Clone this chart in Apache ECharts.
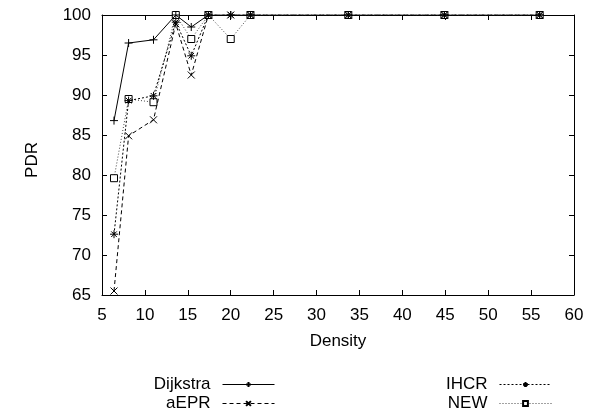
<!DOCTYPE html>
<html>
<head>
<meta charset="utf-8">
<script src="https://cdn.jsdelivr.net/npm/echarts@6/dist/echarts.min.js"></script>
<style>
  html, body { margin: 0; padding: 0; background: #fff; }
  #chart { width: 589px; height: 417px; }
</style>
</head>
<body>
<div id="chart"></div>
<script>
// densities (x) and PDR values
const density = [6.4, 8.1, 11.0, 13.6, 15.4, 17.4, 20.0, 22.3, 33.7, 44.9, 56.0];
const dijkstra = [86.8, 96.5, 96.9, 100, 98.5, 100, 100, 100, 100, 100, 100];
const aepr = [65.5, 84.9, 86.9, 98.9, 92.5, 100, 100, 100, 100, 100, 100];
const ihcr = [72.6, 89.3, 89.9, 99.1, 94.9, 100, 100, 100, 100, 100, 100];
const newAlg = [79.6, 89.5, 89.1, 100, 97.0, 100, 97.0, 100, 100, 100, 100];

const font = 'Liberation Sans, Arial, sans-serif';
const fs = 17;

const pairs = ys => density.map((x, i) => [x, ys[i]]);

const chart = echarts.init(document.getElementById('chart'));

const baseAxis = {
  axisLine: { show: true, lineStyle: { color: '#000', width: 1 } },
  axisTick: { show: true, inside: true, length: 5, lineStyle: { color: '#000' } },
  splitLine: { show: false },
};

const legendItem = (name, right, top) => ({
  data: [name],
  orient: 'vertical',
  right: right,
  top: top,
  padding: 0,
  align: 'right',
  itemWidth: 52,
  itemHeight: 6,
  selectedMode: false,
  lineStyle: { width: 1 },
  textStyle: { fontFamily: font, fontSize: fs, color: '#000', padding: [0, 7, 0, 0] },
});

const option = {
  animation: false,
  backgroundColor: '#fff',
  grid: { left: 102, right: 15, top: 15, bottom: 122, show: false },
  legend: [
    legendItem('Dijkstra', 314, 376),
    legendItem('aEPR', 314, 395),
    legendItem('IHCR', 37, 376),
    legendItem('NEW', 37, 395),
  ],
  xAxis: [
    Object.assign({}, baseAxis, {
      type: 'value', min: 5, max: 60, interval: 5, position: 'bottom',
      name: 'Density', nameLocation: 'middle', nameGap: 38,
      nameTextStyle: { fontFamily: font, fontSize: fs, color: '#000' },
      axisLabel: { fontFamily: font, fontSize: fs, color: '#000', margin: 12 },
    }),
    Object.assign({}, baseAxis, {
      type: 'value', min: 5, max: 60, interval: 5, position: 'top',
      axisLabel: { show: false },
    }),
  ],
  yAxis: [
    Object.assign({}, baseAxis, {
      type: 'value', min: 65, max: 100, interval: 5, position: 'left',
      name: 'PDR', nameLocation: 'middle', nameGap: 61,
      nameTextStyle: { fontFamily: font, fontSize: fs, color: '#000', padding: [0, 10, 0, 0] },
      axisLabel: { fontFamily: font, fontSize: fs, color: '#000', margin: 11 },
    }),
    Object.assign({}, baseAxis, {
      type: 'value', min: 65, max: 100, interval: 5, position: 'right',
      axisLabel: { show: false },
    }),
  ],
  series: [
    {
      name: 'Dijkstra', type: 'line', data: pairs(dijkstra),
      symbol: 'path://M0,5L10,5M5,0L5,10', symbolSize: 8,
      itemStyle: { color: '#000', borderColor: '#000', borderWidth: 1 },
      lineStyle: { color: '#000', width: 1, type: 'solid' },
      z: 5,
    },
    {
      name: 'aEPR', type: 'line', data: pairs(aepr),
      symbol: 'path://M0,0L10,10M10,0L0,10', symbolSize: 7,
      itemStyle: { color: '#000', borderColor: '#000', borderWidth: 1 },
      lineStyle: { color: '#000', width: 1, type: [4, 3] },
      z: 4,
    },
    {
      name: 'IHCR', type: 'line', data: pairs(ihcr),
      symbol: 'path://M0,5L10,5M5,0L5,10M1.5,1.5L8.5,8.5M8.5,1.5L1.5,8.5', symbolSize: 8,
      itemStyle: { color: '#000', borderColor: '#000', borderWidth: 1 },
      lineStyle: { color: '#000', width: 1, type: [2, 2] },
      z: 3,
    },
    {
      name: 'NEW', type: 'line', data: pairs(newAlg),
      symbol: 'rect', symbolSize: 7,
      itemStyle: { color: '#fff', borderColor: '#000', borderWidth: 1 },
      lineStyle: { color: '#444', width: 1, type: [1, 2] },
      z: 2,
    },
  ],
};

chart.setOption(option);
</script>
</body>
</html>
